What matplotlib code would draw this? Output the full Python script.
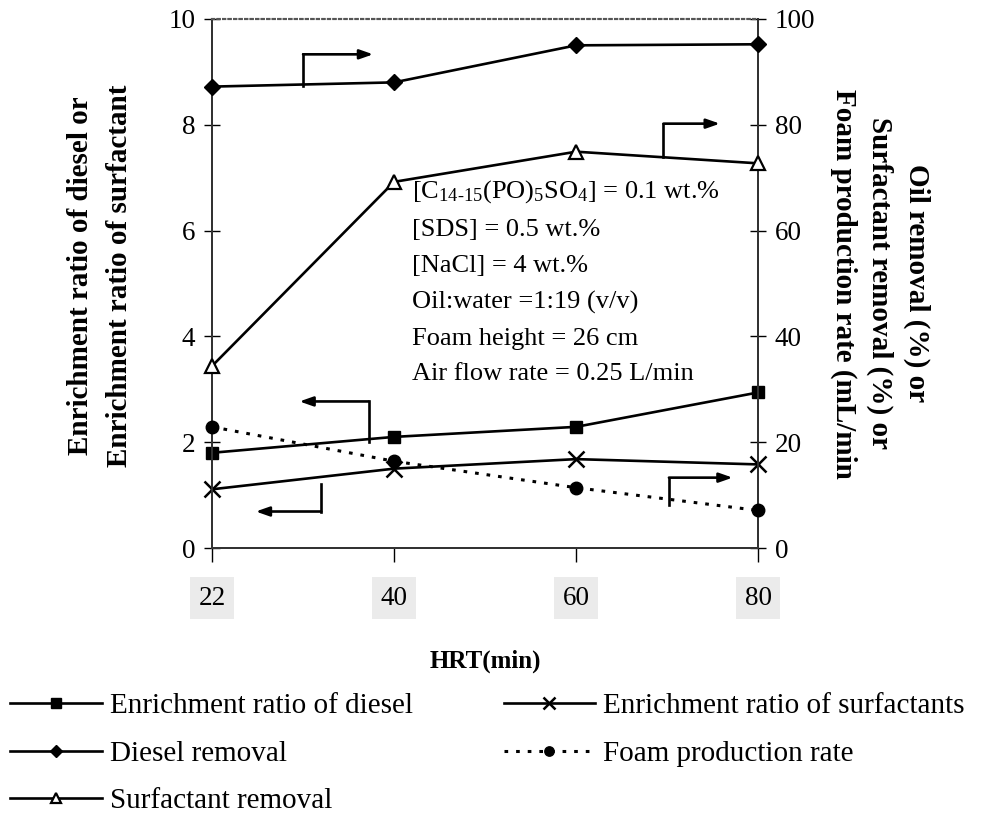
import matplotlib.pyplot as plt
import numpy as np

plt.rcParams['font.family'] = ['Liberation Serif', 'DejaVu Serif']
plt.rcParams['mathtext.fontset'] = 'custom'
plt.rcParams['mathtext.rm'] = 'Liberation Serif'
plt.rcParams['mathtext.it'] = 'Liberation Serif:italic'

# HRT (min) - plotted as evenly spaced categories
hrt = ['22', '40', '60', '80']

# left axis: enrichment ratios
er_diesel = [1.80, 2.10, 2.29, 2.94]
er_surfactant = [1.11, 1.50, 1.68, 1.58]

# right axis: removal (%) and foam production rate (mL/min)
diesel_removal = [87.2, 88.0, 95.0, 95.2]
surfactant_removal = [34.4, 69.2, 74.9, 72.7]
foam_rate = [22.9, 16.4, 11.4, 7.1]

condicoes = [
    r'[C$_{\mathrm{14\text{-}15}}$(PO)$_{\mathrm{5}}$SO$_{\mathrm{4}}$] = 0.1 wt.%',
    '[SDS] = 0.5 wt.%',
    '[NaCl] = 4 wt.%',
    'Oil:water =1:19 (v/v)',
    'Foam height = 26 cm',
    'Air flow rate = 0.25 L/min',
]

FS_TICK = 19.5
FS_TXT = 19
x = np.arange(len(hrt))

fig = plt.figure(figsize=(9.91, 8.21), dpi=100)
ax = fig.add_axes([0.214, 0.3325, 0.551, 0.6445])
ax2 = ax.twinx()

estilo = dict(color='black', lw=1.9, clip_on=False, zorder=5)
l1, = ax.plot(x, er_diesel, marker='s', ms=9, **estilo)
l2, = ax.plot(x, er_surfactant, marker='x', ms=11, mew=1.8, **estilo)
l3, = ax2.plot(x, diesel_removal, marker='D', ms=8, **estilo)
l4, = ax2.plot(x, surfactant_removal, marker='^', ms=10, mfc='white', mew=1.6, **estilo)
l5, = ax2.plot(x, foam_rate, marker='o', ms=9, color='black', lw=2.2,
               ls=(0, (1.2, 2.6)), clip_on=False, zorder=5)

ax.set_xlim(0, 3)
ax.set_ylim(0, 10)
ax2.set_ylim(0, 100)
ax.set_yticks(range(0, 11, 2))
ax2.set_yticks(range(0, 101, 20))
ax.set_xticks(x)
ax.set_xticklabels(hrt)

for a in (ax, ax2):
    a.tick_params(axis='y', direction='inout', length=12, width=1,
                  labelsize=FS_TICK, pad=6)
ax.tick_params(axis='x', direction='out', length=10, width=1,
               labelsize=FS_TICK, pad=17)
for lab in ax.get_xticklabels():
    lab.set_bbox(dict(facecolor='#ebebeb', edgecolor='none', pad=6))

for a in (ax, ax2):
    a.spines['top'].set_linestyle(':')
    a.spines['top'].set_color('#555555')
    a.spines['top'].set_linewidth(1.5)
    for s in ('left', 'right', 'bottom'):
        a.spines[s].set_linewidth(1.4)
        a.spines[s].set_color('#333333')

ax.set_ylabel('Enrichment ratio of diesel or\nEnrichment ratio of surfactant',
              fontsize=21, weight='bold', linespacing=1.6, va='center')
ax.yaxis.set_label_coords(-0.205, 0.515)
ax2.set_ylabel('Oil removal (%) or\nSurfactant removal (%) or\nFoam production rate (mL/min',
               fontsize=21, weight='bold', rotation=270, linespacing=1.43,
               ha='center', va='center', multialignment='center')
ax2.yaxis.set_label_coords(1.223, 0.5)
ax.set_xlabel('HRT(min)', fontsize=18, weight='bold', labelpad=28)

# setas indicando o eixo de cada curva (coordenadas do eixo esquerdo)
setas = [
    (0.50, 8.74, 9.33, 0.885),
    (2.48, 7.39, 8.02, 2.79),
    (0.86, 2.00, 2.77, 0.48),
    (0.60, 1.21, 0.69, 0.24),
    (2.51, 0.81, 1.33, 2.86),
]
for x0, y0, y1, x1 in setas:
    ax.plot([x0, x0], [y0, y1], color='black', lw=1.9, zorder=6)
    ax.annotate('', xy=(x1, y1), xytext=(x0, y1),
                arrowprops=dict(arrowstyle='-|>,head_length=0.8,head_width=0.28',
                                color='black', lw=1.9, shrinkA=0, shrinkB=0),
                zorder=6)

ax2.text(1.097, 50.3, '\n'.join(condicoes), fontsize=FS_TXT, va='center', ha='left',
         linespacing=1.8, zorder=7)

handles = [l1, l3, l4, l2, l5]
labels = ['Enrichment ratio of diesel', 'Diesel removal', 'Surfactant removal',
          'Enrichment ratio of surfactants', 'Foam production rate']
fig.legend(handles, labels, loc='upper left', bbox_to_anchor=(-0.016, 0.188),
           ncol=2, frameon=False, fontsize=21, handlelength=3.15, handletextpad=0.27,
           columnspacing=3.1, labelspacing=0.72, markerscale=0.75)

plt.savefig('out.png', dpi=100)
